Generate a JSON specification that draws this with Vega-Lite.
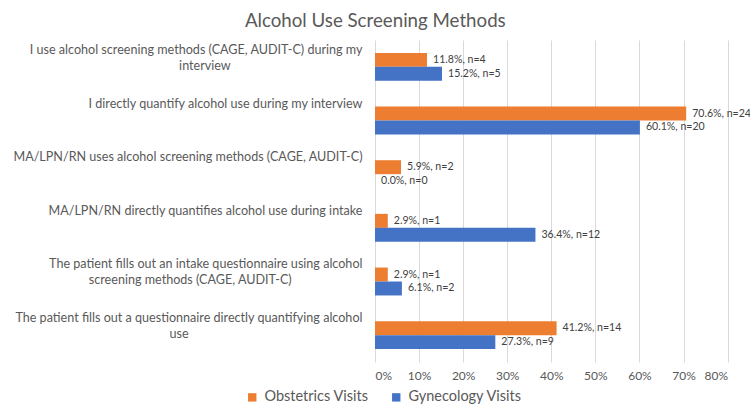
{
  "$schema": "https://vega.github.io/schema/vega-lite/v6.json",
  "width": 352.6,
  "height": 322,
  "autosize": {"type": "none"},
  "padding": {"left": 375, "top": 40, "right": 22, "bottom": 55},
  "background": "white",
  "config": {"font": "Lato", "view": {"stroke": null}},
  "title": {"text": "Alcohol Use Screening Methods", "anchor": "middle", "frame": "group", "dx": -176, "offset": 9, "fontSize": 18.7, "font": "Lato", "fontWeight": "normal", "color": "#595959"},
  "data": {"values": [
    {"method": "I use alcohol screening methods (CAGE, AUDIT-C) during my|interview", "visit": "Obstetrics Visits", "pct": 0.118, "label": "11.8%, n=4"},
    {"method": "I use alcohol screening methods (CAGE, AUDIT-C) during my|interview", "visit": "Gynecology Visits", "pct": 0.152, "label": "15.2%, n=5"},
    {"method": "I directly quantify alcohol use during my interview", "visit": "Obstetrics Visits", "pct": 0.706, "label": "70.6%, n=24"},
    {"method": "I directly quantify alcohol use during my interview", "visit": "Gynecology Visits", "pct": 0.601, "label": "60.1%, n=20"},
    {"method": "MA/LPN/RN uses alcohol screening methods (CAGE, AUDIT-C)", "visit": "Obstetrics Visits", "pct": 0.059, "label": "5.9%, n=2"},
    {"method": "MA/LPN/RN uses alcohol screening methods (CAGE, AUDIT-C)", "visit": "Gynecology Visits", "pct": 0.0, "label": "0.0%, n=0"},
    {"method": "MA/LPN/RN directly quantifies alcohol use during intake", "visit": "Obstetrics Visits", "pct": 0.029, "label": "2.9%, n=1"},
    {"method": "MA/LPN/RN directly quantifies alcohol use during intake", "visit": "Gynecology Visits", "pct": 0.364, "label": "36.4%, n=12"},
    {"method": "The patient fills out an intake questionnaire using alcohol|screening methods (CAGE, AUDIT-C)", "visit": "Obstetrics Visits", "pct": 0.029, "label": "2.9%, n=1"},
    {"method": "The patient fills out an intake questionnaire using alcohol|screening methods (CAGE, AUDIT-C)", "visit": "Gynecology Visits", "pct": 0.061, "label": "6.1%, n=2"},
    {"method": "The patient fills out a questionnaire directly quantifying alcohol|use", "visit": "Obstetrics Visits", "pct": 0.412, "label": "41.2%, n=14"},
    {"method": "The patient fills out a questionnaire directly quantifying alcohol|use", "visit": "Gynecology Visits", "pct": 0.273, "label": "27.3%, n=9"}
  ]},
  "encoding": {
    "y": {"field": "method", "type": "nominal", "sort": null,
      "scale": {"paddingInner": 0.48, "paddingOuter": 0.24},
      "axis": {"title": null, "ticks": false, "domain": false, "labelExpr": "length(split(datum.label, '|')) > 1 ? [split(datum.label, '|')[0], pad(split(datum.label, '|')[1], length(split(datum.label, '|')[1]) + floor(0.86 * (length(split(datum.label, '|')[0]) - length(split(datum.label, '|')[1]))), '\u00a0', 'right') + '\u200b'] : datum.label", "labelLimit": 400, "labelFontSize": 12.6, "labelColor": "#595959", "labelPadding": 13, "labelBaseline": "alphabetic", "labelOffset": -13, "labelLineHeight": 16}},
    "yOffset": {"field": "visit", "type": "nominal", "sort": ["Obstetrics Visits", "Gynecology Visits"]},
    "x": {"field": "pct", "type": "quantitative",
      "scale": {"domain": [0, 0.8], "nice": false},
      "axis": {"title": null, "format": ".0%", "values": [0, 0.1, 0.2, 0.3, 0.4, 0.5, 0.6, 0.7, 0.8], "labelOverlap": false, "ticks": false, "domain": false, "gridColor": "#d9d9d9", "labelColor": "#595959", "labelFontSize": 12, "labelPadding": 9}}
  },
  "layer": [
    {"mark": {"type": "bar"},
      "encoding": {"color": {"field": "visit", "type": "nominal",
        "scale": {"domain": ["Obstetrics Visits", "Gynecology Visits"], "range": ["#ED7D31", "#4472C4"]},
        "legend": {"title": null, "orient": "none", "legendX": -130, "legendY": 350, "direction": "horizontal", "symbolType": "square", "symbolSize": 70, "symbolStrokeWidth": 0, "labelFontSize": 14.5, "labelColor": "#595959", "columnPadding": 20, "labelOffset": 5}}}},
    {"mark": {"type": "text", "align": "left", "baseline": "middle", "dx": 6, "fontSize": 10.6, "color": "#404040"},
      "encoding": {"text": {"field": "label", "type": "nominal"}}}
  ]
}
